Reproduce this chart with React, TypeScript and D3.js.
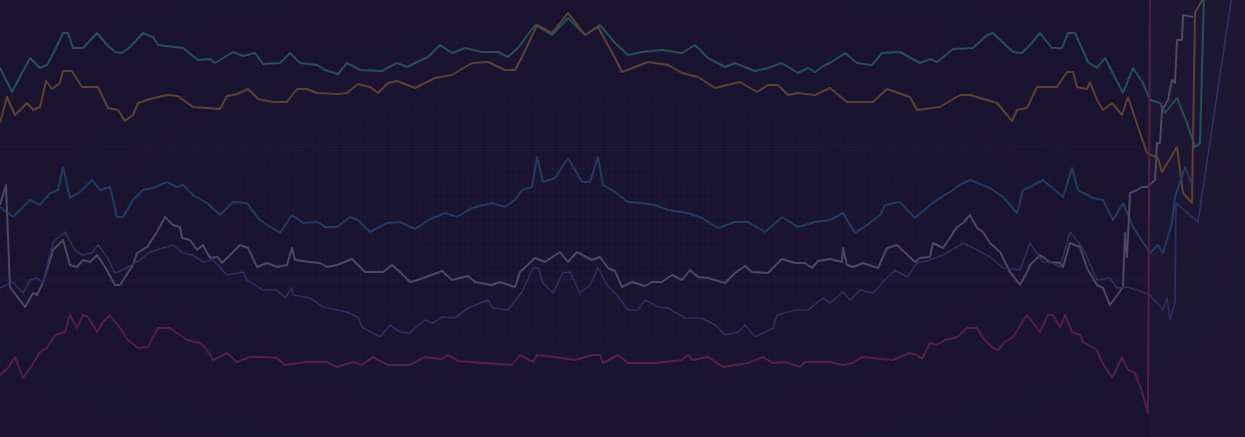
import { useEffect, useRef } from 'react'
import * as d3 from 'd3'

type Pt = [number, number]

// readings: [time, depth] — depth grows downward
const teal: Pt[] = [[0,68],[12,92],[30,58],[40,68],[47,65],[55,50],[63,33],[68,33],[73,48],[83,48],[97,33],[107,45],[115,52],[122,53],[130,47],[143,33],[153,37],[158,45],[183,48],[198,60],[210,59],[215,63],[233,52],[243,56],[255,53],[263,64],[280,63],[290,53],[300,63],[317,65],[325,70],[338,74],[347,63],[360,70],[382,71],[397,63],[407,67],[415,63],[428,57],[440,45],[452,53],[465,48],[482,52],[498,52],[508,57],[518,48],[535,25],[552,35],[568,18],[585,35],[600,25],[615,43],[628,55],[642,52],[662,50],[682,53],[695,45],[708,58],[725,67],[735,63],[755,71],[768,68],[782,63],[798,73],[808,68],[815,72],[825,65],[830,63],[845,53],[857,63],[872,65],[882,53],[900,52],[920,63],[930,59],[937,62],[953,49],[973,48],[987,35],[993,33],[1013,52],[1022,53],[1030,45],[1040,33],[1052,48],[1062,48],[1068,33],[1075,33],[1088,62],[1097,68],[1105,58],[1123,93],[1133,68],[1143,83],[1150,100],[1160,103],[1165,113],[1177,98],[1187,123],[1195,147],[1200,143],[1204,-5]]

const orange: Pt[] = [[0,123],[7,97],[15,115],[27,103],[33,110],[40,107],[46,81],[52,89],[60,83],[63,71],[72,71],[82,87],[98,87],[108,108],[118,110],[125,121],[133,115],[138,103],[150,99],[167,95],[178,96],[193,107],[207,108],[220,109],[227,96],[237,94],[248,89],[258,99],[273,102],[287,102],[297,89],[307,89],[317,93],[337,94],[347,93],[358,84],[370,87],[378,93],[388,83],[397,81],[415,88],[435,78],[452,75],[472,63],[488,62],[505,70],[515,70],[522,57],[537,25],[552,33],[568,13],[585,35],[598,27],[615,58],[622,72],[648,62],[668,65],[682,73],[698,77],[715,88],[740,82],[757,92],[768,85],[778,85],[788,95],[798,93],[815,95],[830,88],[847,102],[873,102],[887,89],[910,97],[917,110],[940,107],[960,95],[970,95],[997,103],[1012,121],[1017,110],[1027,108],[1037,87],[1057,87],[1067,72],[1073,72],[1077,87],[1087,89],[1090,82],[1097,100],[1103,110],[1112,103],[1122,115],[1128,97],[1140,133],[1147,153],[1158,158],[1162,172],[1177,147],[1183,193],[1192,203],[1195,13],[1205,-5]]

const blue: Pt[] = [[0,207],[13,217],[30,200],[40,205],[50,193],[58,190],[63,167],[70,198],[80,192],[92,180],[100,190],[110,187],[117,217],[123,217],[133,200],[143,190],[153,188],[167,182],[177,187],[183,185],[193,195],[207,203],[220,215],[233,202],[247,203],[257,217],[260,220],[280,233],[292,215],[303,223],[318,222],[325,227],[337,227],[350,217],[358,220],[370,232],[387,223],[400,222],[415,229],[428,220],[445,213],[457,217],[472,208],[492,203],[505,207],[515,200],[522,190],[532,187],[537,157],[543,182],[555,178],[568,158],[582,182],[590,182],[598,157],[603,185],[615,192],[628,202],[642,203],[655,205],[668,210],[688,213],[702,218],[718,228],[735,222],[748,222],[765,232],[782,217],[798,227],[815,222],[830,220],[843,213],[855,233],[867,225],[880,215],[885,205],[900,202],[915,218],[930,205],[940,198],[950,192],[960,185],[970,180],[990,188],[1003,197],[1017,213],[1023,190],[1030,187],[1043,180],[1063,197],[1072,168],[1078,190],[1093,198],[1103,200],[1113,220],[1123,203],[1133,227],[1150,253],[1158,245],[1163,253],[1172,223],[1175,197],[1185,167],[1192,185]]

const grey: Pt[] = [[0,205],[6,185],[10,287],[25,307],[33,293],[37,295],[43,283],[53,250],[63,240],[70,265],[77,267],[83,260],[90,262],[97,255],[105,267],[115,285],[120,285],[133,265],[137,253],[147,247],[157,232],[165,217],[173,225],[180,227],[182,238],[190,240],[197,250],[203,245],[210,258],[218,257],[222,263],[240,245],[248,248],[257,267],[267,263],[277,267],[287,265],[292,248],[295,260],[310,262],[320,263],[327,267],[337,265],[352,259],[365,272],[383,272],[392,265],[400,272],[410,282],[415,281],[442,271],[452,280],[468,276],[475,282],[492,285],[500,282],[515,287],[520,272],[535,258],[545,262],[560,252],[568,262],[577,252],[592,260],[600,257],[608,268],[615,271],[622,287],[632,282],[645,286],[652,282],[662,282],[672,275],[682,280],[690,270],[698,277],[708,278],[725,283],[735,273],[745,266],[752,272],[768,273],[782,259],[795,263],[805,263],[812,268],[818,261],[830,259],[842,262],[843,248],[847,265],[853,267],[863,263],[878,268],[887,248],[897,245],[915,262],[920,258],[930,257],[933,243],[943,248],[957,227],[963,223],[970,215],[977,228],[983,232],[990,243],[1000,252],[1010,272],[1020,285],[1027,272],[1030,265],[1040,255],[1050,262],[1060,263],[1063,267],[1070,243],[1080,247],[1087,268],[1097,285],[1103,288],[1110,305],[1123,287],[1125,233],[1127,257],[1130,193],[1137,190],[1142,187],[1147,187],[1155,180],[1157,143],[1160,143],[1162,110],[1168,100],[1172,80],[1175,83],[1177,40],[1182,40],[1183,15],[1193,17]]

const purple: Pt[] = [[0,288],[13,282],[23,293],[30,280],[37,278],[43,283],[53,242],[65,232],[75,250],[82,255],[92,253],[98,245],[107,257],[115,273],[123,270],[140,260],[150,252],[163,248],[173,245],[183,253],[193,255],[203,262],[213,260],[227,275],[243,272],[247,280],[263,290],[277,290],[285,298],[292,288],[293,295],[310,298],[323,307],[337,310],[347,312],[358,317],[362,327],[380,337],[390,325],[400,332],[410,333],[415,328],[425,320],[433,323],[442,317],[455,318],[468,308],[488,300],[493,308],[508,310],[522,292],[533,268],[538,268],[543,283],[553,293],[563,273],[570,272],[580,293],[590,285],[598,268],[607,285],[617,295],[628,310],[638,310],[645,300],[658,307],[668,308],[685,318],[702,318],[715,325],[725,335],[738,332],[745,325],[755,337],[773,328],[777,315],[795,310],[808,310],[823,298],[830,303],[843,292],[850,300],[860,290],[873,293],[883,282],[895,270],[907,277],[917,263],[930,260],[943,255],[957,247],[963,243],[977,250],[990,257],[1003,268],[1020,270],[1030,243],[1043,262],[1050,262],[1060,267],[1070,232],[1083,248],[1097,280],[1110,278],[1117,288],[1127,287],[1137,290],[1150,295],[1163,310],[1167,298],[1170,320],[1175,302],[1176,203],[1198,222],[1232,-5]]

const red: Pt[] = [[0,375],[8,368],[15,357],[23,378],[32,365],[40,352],[47,348],[55,335],[65,332],[70,315],[77,328],[83,315],[88,317],[97,332],[103,322],[110,315],[120,328],[128,340],[138,348],[148,347],[158,328],[170,328],[187,340],[200,343],[205,347],[213,360],[227,353],[237,362],[250,357],[267,357],[277,358],[285,365],[307,362],[327,362],[337,367],[353,362],[362,365],[373,357],[388,365],[410,365],[425,357],[442,359],[448,355],[458,361],[482,363],[512,365],[520,355],[533,362],[537,355],[555,357],[575,360],[592,355],[600,355],[603,363],[618,355],[628,363],[655,363],[682,360],[688,355],[693,360],[708,357],[723,367],[748,363],[763,357],[773,363],[785,362],[800,367],[805,362],[830,362],[843,365],[853,363],[862,357],[893,360],[910,353],[917,355],[922,359],[930,343],[937,345],[945,340],[957,337],[967,328],[977,328],[983,338],[993,348],[998,350],[1005,342],[1013,337],[1027,315],[1040,332],[1048,315],[1053,315],[1060,327],[1065,315],[1072,332],[1080,335],[1083,342],[1097,350],[1102,362],[1112,378],[1122,357],[1128,370],[1135,373],[1142,392],[1148,413],[1150,-5]]

const seriesList = [
    { name: 'teal', data: teal, color: '#25505a' },
    { name: 'orange', data: orange, color: '#5c4232' },
    { name: 'blue', data: blue, color: '#233b64' },
    { name: 'grey', data: grey, color: '#4f4666' },
    { name: 'purple', data: purple, color: '#332e62' },
    { name: 'red', data: red, color: '#52213f' },
]

const majorRows = [147, 280]

function App({ width = 1245, height = 437 }) {
    const ref = useRef<SVGSVGElement | null>(null)

    useEffect(() => {
        const svg = d3.select(ref.current)
        svg.selectAll("*").remove()
        svg.attr("viewBox", [0, 0, width, height]).attr("width", width).attr("height", height)

        const x = d3.scaleLinear().domain([0, 1245]).range([0, width])
        const y = d3.scaleLinear().domain([0, 437]).range([0, height])

        const defs = svg.append("defs")
        const pat = defs.append("pattern").attr("id", "grid").attr("width", 6).attr("height", 6)
            .attr("patternUnits", "userSpaceOnUse")
        pat.append("path").attr("d", "M6 0H0V6").attr("fill", "none").attr("stroke", "#2a2350").attr("stroke-width", 1)

        const rg = defs.append("radialGradient").attr("id", "fade").attr("cx", "0.46").attr("cy", "0.5").attr("r", "0.6")
        rg.append("stop").attr("offset", "0%").attr("stop-color", "#fff").attr("stop-opacity", 0.9)
        rg.append("stop").attr("offset", "100%").attr("stop-color", "#fff").attr("stop-opacity", 0.15)
        defs.append("mask").attr("id", "m").append("rect").attr("width", width).attr("height", height).attr("fill", "url(#fade)")

        defs.append("filter").attr("id", "soft").append("feGaussianBlur").attr("stdDeviation", 0.6)

        svg.append("rect").attr("width", width).attr("height", height).attr("fill", "#19132f")
        svg.append("rect").attr("x", x(1150)).attr("width", width - x(1150)).attr("height", height).attr("fill", "#1c1633")
        svg.append("rect").attr("width", width).attr("height", height).attr("fill", "url(#grid)")
            .attr("mask", "url(#m)").attr("opacity", 0.6)

        svg.append("g").selectAll("line").data(majorRows).join("line")
            .attr("x1", 0).attr("x2", width).attr("y1", d => y(d)).attr("y2", d => y(d))
            .attr("stroke", "#221b42").attr("stroke-width", 1)

        const line = d3.line<Pt>().x(d => x(d[0])).y(d => y(d[1]))

        svg.append("g").attr("filter", "url(#soft)")
            .selectAll("path").data(seriesList).join("path")
            .attr("d", d => line(d.data))
            .attr("fill", "none")
            .attr("stroke", d => d.color)
            .attr("stroke-width", d => d.name === 'purple' ? 1.6 : 2)
            .attr("stroke-linejoin", "round")
    }, [])

    return (
        <svg ref={ref} style={{ position: 'fixed', left: 0, top: 0, display: 'block' }}></svg>
    )
}

export default App
